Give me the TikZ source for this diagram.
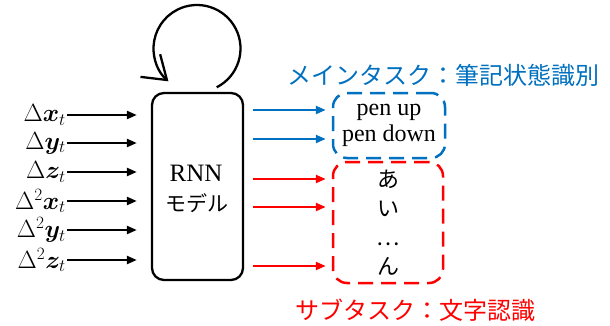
\documentclass[tikz,border=0pt]{standalone}
\usepackage{amsmath,bm}
\usepackage{fontspec}
\newfontfamily\jpfont{Noto Sans CJK JP}
\newfontfamily\seriffont{Liberation Serif}
\usetikzlibrary{arrows.meta,calc}
\definecolor{taskblue}{RGB}{0,112,192}
\definecolor{taskred}{RGB}{255,0,0}
\begin{document}
\begin{tikzpicture}[x=1pt,y=1pt,
  inlabel/.style={anchor=east,inner sep=1pt,font=\fontsize{23}{27}\selectfont},
  feed/.style={line width=2.3pt,-{Triangle[length=10pt,width=8pt]}},
  modelbox/.style={draw,line width=2.3pt,rounded corners=12pt,minimum width=91pt,minimum height=187pt,inner sep=0pt},
  taskbox/.style={draw,line width=2.5pt,rounded corners=14pt,dash pattern=on 15pt off 8pt,inner sep=0pt,align=center},
  tasktitle/.style={anchor=west,inner sep=0pt,font=\jpfont\fontsize{24}{28}\selectfont}]
\useasboundingbox (0,0) rectangle (610,325);

% recurrent model
\node[modelbox] (rnn) at (197.5,138.5) {};
\node[inner sep=0pt,font=\seriffont\fontsize{25}{30}\selectfont] (rnnname) at (196,152) {RNN};
\node[inner sep=0pt,font=\jpfont\fontsize{21}{25}\selectfont] (rnnkind) at (197,122) {モデル};

% self loop
\coordinate (loopcentre) at (197,276.5);
\coordinate (loopstart) at ($(loopcentre)+(-63:43.5)$);
\draw[line width=2.3pt,-{Straight Barb[length=22pt,width=30pt]}] (loopstart) arc (-63:229:43.5);

% input features
\node[inlabel] (in1) at (67,210) {$\Delta\bm{x}_t$};
\node[inlabel] (in2) at (67,182) {$\Delta\bm{y}_t$};
\node[inlabel] (in3) at (67,153) {$\Delta\bm{z}_t$};
\node[inlabel] (in4) at (67,124) {$\Delta^2\bm{x}_t$};
\node[inlabel] (in5) at (67,95) {$\Delta^2\bm{y}_t$};
\node[inlabel] (in6) at (67,65) {$\Delta^2\bm{z}_t$};
\foreach \i in {1,...,6}
  \draw[feed,shorten >=14pt] (in\i.east) -- (in\i.east -| rnn.west);

% task boxes
\node[taskbox,draw=taskblue,minimum width=112pt,minimum height=65pt,font=\seriffont\fontsize{24}{26}\selectfont] (main) at (389,199.5) {pen up\\pen down};
\node[taskbox,draw=taskred,minimum width=110pt,minimum height=121pt,font=\jpfont\fontsize{22}{29}\selectfont] (sub) at (388,102.5) {あ\\い\\…\\ん};

% task titles
\node[tasktitle,text=taskblue] (maintitle) at (287,250) {メインタスク：筆記状態識別};
\node[tasktitle,text=taskred] (subtitle) at (295,15) {サブタスク：文字認識};

% outputs
\foreach \y in {215,186}
  \draw[feed,taskblue,shorten <=9pt,shorten >=6pt] (rnn.east |- 0,\y) -- (main.west |- 0,\y);
\foreach \y in {146,118,59}
  \draw[feed,taskred,shorten <=9pt,shorten >=6pt] (rnn.east |- 0,\y) -- (sub.west |- 0,\y);
\end{tikzpicture}
\end{document}
